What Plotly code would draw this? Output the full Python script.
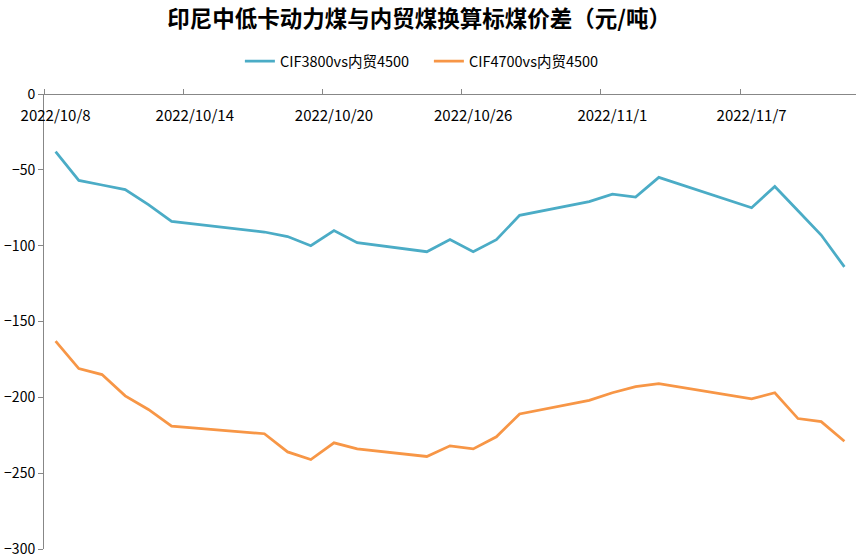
import plotly.graph_objects as go

# trading dates
dates = [
    "2022-10-08", "2022-10-09", "2022-10-10", "2022-10-11", "2022-10-12",
    "2022-10-13", "2022-10-17", "2022-10-18", "2022-10-19", "2022-10-20",
    "2022-10-21", "2022-10-24", "2022-10-25", "2022-10-26", "2022-10-27",
    "2022-10-28", "2022-10-31", "2022-11-01", "2022-11-02", "2022-11-03",
    "2022-11-07", "2022-11-08", "2022-11-09", "2022-11-10", "2022-11-11",
]

cif3800 = [-38, -57, -60, -63, -73, -84, -91, -94, -100, -90, -98, -104, -96,
           -104, -96, -80, -71, -66, -68, -55, -75, -61, -77, -93, -114]
cif4700 = [-163, -181, -185, -199, -208, -219, -224, -236, -241, -230, -234, -239, -232,
           -234, -226, -211, -202, -197, -193, -191, -201, -197, -214, -216, -229]

tick_dates = ["2022-10-08", "2022-10-14", "2022-10-20", "2022-10-26", "2022-11-01", "2022-11-07"]
tick_text = ["2022/10/8", "2022/10/14", "2022/10/20", "2022/10/26", "2022/11/1", "2022/11/7"]

FONT = "Noto Sans CJK SC"
DAY_MS = 86400000

fig = go.Figure()
fig.add_trace(go.Scatter(x=dates, y=cif3800, mode="lines", name="CIF3800vs内贸4500",
                         line=dict(color="#4BACC6", width=2.75)))
fig.add_trace(go.Scatter(x=dates, y=cif4700, mode="lines", name="CIF4700vs内贸4500",
                         line=dict(color="#F79646", width=2.75)))

fig.update_layout(
    width=859, height=558,
    margin=dict(l=44, r=3, t=94, b=9, autoexpand=False),
    paper_bgcolor="white", plot_bgcolor="white",
    font=dict(family=FONT, size=14, color="#000000"),
    title=dict(text="<b>印尼中低卡动力煤与内贸煤换算标煤价差（元/吨）</b>",
               x=0.488, xanchor="center", y=0.965, yanchor="middle",
               font=dict(family=FONT, size=22.5, color="#000000")),
    legend=dict(orientation="h", x=0.474, xanchor="center", y=1.072, yanchor="middle",
                font=dict(family=FONT, size=14.5, color="#000000"),
                itemwidth=30, entrywidth=144, entrywidthmode="pixels"),
    showlegend=True,
)

# x axis drawn along y = 0 (top of the plot), labels hanging below the line
fig.update_xaxes(
    type="date",
    range=["2022-10-07 12:00", "2022-11-11 12:00"],
    anchor="free", position=1, side="bottom",
    automargin=False,
    showline=True, linecolor="#878787", linewidth=1,
    showgrid=False, zeroline=False,
    tickvals=tick_dates, ticktext=tick_text,
    ticks="", ticklen=0,
    ticklabelstandoff=8,
    tickfont=dict(family=FONT, size=15, color="#000000"),
    minor=dict(ticks="inside", ticklen=5, tickcolor="#878787",
               tick0="2022-10-07 12:00", dtick=6 * DAY_MS, showgrid=False),
)

fig.update_yaxes(
    range=[-300, 0],
    tickvals=[0, -50, -100, -150, -200, -250, -300],
    automargin=False,
    showline=True, linecolor="#878787", linewidth=1,
    showgrid=False, zeroline=False,
    ticks="outside", ticklen=5, tickcolor="#878787",
    tickfont=dict(family=FONT, size=14, color="#000000"),
)

fig.write_html("out.html", config={"displayModeBar": False},
               post_script="document.body.style.margin = '0';")
